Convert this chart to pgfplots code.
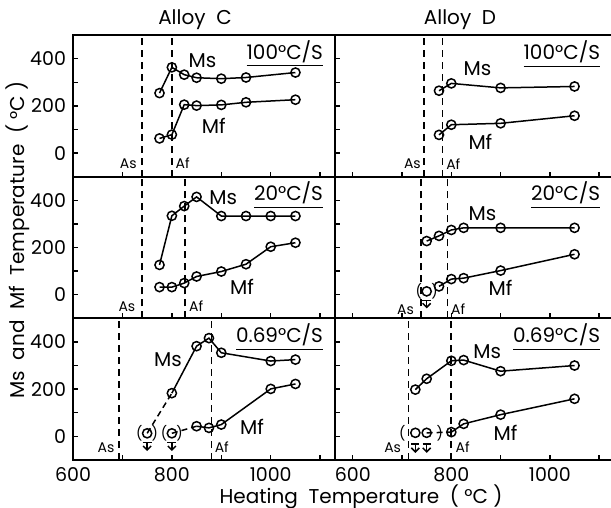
\documentclass[border=0pt]{standalone}
\usepackage{fontspec}
\setmainfont{Poppins}
\usepackage{pgfplots}
\pgfplotsset{compat=1.18}
\usetikzlibrary{arrows.meta}

\pgfplotsset{
  panel/.style={
    scale only axis, height=70.85pt,
    ymin=-100, ymax=500,
    ytick={0,200,400}, minor ytick={100,300},
    xtick={600,800,1000}, minor xtick={700,900,1100},
    tick pos=left,
    major tick length=2.5pt, minor tick length=2.5pt,
    axis line style={line width=1pt},
    every tick/.style={black, line width=0.7pt},
    tick label style={font=\fontsize{9.5}{11}\selectfont},
    /pgf/number format/assume math mode=true,
    xticklabels={},
  },
  leftp/.style={panel, xmin=600, xmax=1130, width=131pt},
  rightp/.style={panel, xmin=564, xmax=1126, width=138.5pt, yticklabels={}},
  bottomrow/.style={xticklabels={600,800,1000}},
  ser/.style={black, line width=0.75pt, mark=o, mark size=2.3pt, mark options={solid, fill=white}},
  pt/.style={black, line width=0.75pt, only marks, mark=o, mark size=2.3pt, mark options={solid, fill=white}},
  conn/.style={black, line width=0.75pt, no marks, dash pattern=on 3pt off 2pt},
  ref/.style={black, line width=0.8pt, no marks, dash pattern=on 3.5pt off 2.5pt},
  bar/.style={black, line width=0.75pt, no marks},
  arr/.style={black, line width=0.75pt, no marks, -{Straight Barb[length=2pt,width=4pt]}},
}
\newcommand{\lab}{\fontsize{10}{12}\selectfont}
\newcommand{\sml}{\fontsize{7}{8}\selectfont}
\newcommand{\paren}{\fontsize{7}{8}\selectfont(\hspace{4.6pt})}

\begin{document}
\begin{tikzpicture}
\useasboundingbox (0,0) rectangle (305.5pt,254pt);

% ---------- Alloy C, 100 C/s ----------
\begin{axis}[leftp, at={(36.5pt,165.65pt)}, anchor=south west]
\addplot[ref] coordinates {(740,-100) (740,500)};
\addplot[ref] coordinates {(800,-100) (800,500)};
\addplot[ser] coordinates {(775,254) (800,363) (825,332) (850,319) (900,315) (950,320) (1050,341)};
\addplot[ser] coordinates {(775,62) (800,78) (825,205) (850,201) (900,204) (950,215) (1050,226)};
\node[font=\lab] at (axis cs:862,391) {Ms};
\node[font=\lab] at (axis cs:885,116) {Mf};
\node[font=\sml] at (axis cs:712,-44) {As};
\node[font=\sml] at (axis cs:822,-44) {Af};
\node[font=\lab, anchor=east] at (axis cs:1120,420) {\underline{100°C/S}};
\end{axis}

% ---------- Alloy D, 100 C/s ----------
\begin{axis}[rightp, at={(167.5pt,165.65pt)}, anchor=south west]
\addplot[ref] coordinates {(745,-100) (745,500)};
\addplot[ref] coordinates {(782,-100) (782,500)};
\addplot[ser] coordinates {(775,264) (800,295) (900,276) (1050,282)};
\addplot[ser] coordinates {(775,77) (800,120) (900,126) (1050,158)};
\node[font=\lab] at (axis cs:853,356) {Ms};
\node[font=\lab] at (axis cs:859,46) {Mf};
\node[font=\sml] at (axis cs:721,-46) {As};
\node[font=\sml] at (axis cs:804,-46) {Af};
\node[font=\lab, anchor=east] at (axis cs:1116,419) {\underline{100°C/S}};
\end{axis}

% ---------- Alloy C, 20 C/s ----------
\begin{axis}[leftp, at={(36.5pt,94.85pt)}, anchor=south west]
\addplot[ref] coordinates {(740,-100) (740,500)};
\addplot[ref] coordinates {(827,-100) (827,500)};
\addplot[ser] coordinates {(775,126) (800,334) (825,375) (850,414) (900,333) (950,333) (1000,333) (1050,333)};
\addplot[ser] coordinates {(775,32) (800,32) (825,49) (850,77) (900,98) (950,129) (1000,203) (1050,220)};
\node[font=\lab] at (axis cs:904,411) {Ms};
\node[font=\lab] at (axis cs:942,35) {Mf};
\node[font=\sml] at (axis cs:709,-49) {As};
\node[font=\sml] at (axis cs:849,-49) {Af};
\node[font=\lab, anchor=east] at (axis cs:1120,421) {\underline{20°C/S}};
\end{axis}

% ---------- Alloy D, 20 C/s ----------
\begin{axis}[rightp, at={(167.5pt,94.85pt)}, anchor=south west]
\addplot[ref] coordinates {(738,-100) (738,500)};
\addplot[ref] coordinates {(792,-100) (792,500)};
\addplot[ser] coordinates {(750,227) (775,249) (800,274) (825,283) (900,283) (1050,283)};
\addplot[ser] coordinates {(775,35) (800,66) (825,70) (900,102) (1050,171)};
\addplot[pt] coordinates {(750,14)};
\node at (axis cs:750,14) {\paren};
\addplot[bar] coordinates {(741,-25) (759,-25)};
\addplot[arr] coordinates {(750,-25) (750,-58)};
\node[font=\lab] at (axis cs:863,344) {Ms};
\node[font=\lab] at (axis cs:900,28) {Mf};
\node[font=\sml] at (axis cs:707,-63) {As};
\node[font=\sml] at (axis cs:814,-63) {Af};
\node[font=\lab, anchor=east] at (axis cs:1116,421) {\underline{20°C/S}};
\end{axis}

% ---------- Alloy C, 0.69 C/s ----------
\begin{axis}[leftp, bottomrow, at={(36.5pt,24pt)}, anchor=south west]
\addplot[ref] coordinates {(693,-100) (693,500)};
\addplot[ref] coordinates {(880,-100) (880,500)};
\addplot[conn] coordinates {(750,13) (800,183)};
\addplot[conn] coordinates {(800,13) (850,43)};
\addplot[ser] coordinates {(800,183) (850,382) (875,416) (900,354) (1000,319) (1050,325)};
\addplot[ser] coordinates {(850,43) (875,36) (900,50) (1000,201) (1050,222)};
\addplot[pt] coordinates {(750,13) (800,13)};
\node at (axis cs:750,13) {\paren};
\node at (axis cs:800,13) {\paren};
\addplot[bar] coordinates {(741,-25) (759,-25)};
\addplot[arr] coordinates {(750,-25) (750,-62)};
\addplot[bar] coordinates {(791,-25) (809,-25)};
\addplot[arr] coordinates {(800,-25) (800,-62)};
\node[font=\lab] at (axis cs:792,325) {Ms};
\node[font=\lab] at (axis cs:962,41) {Mf};
\node[font=\sml] at (axis cs:667,-46) {As};
\node[font=\sml] at (axis cs:901,-46) {Af};
\node[font=\lab, anchor=east] at (axis cs:1120,420) {\underline{0.69°C/S}};
\end{axis}

% ---------- Alloy D, 0.69 C/s ----------
\begin{axis}[rightp, bottomrow, at={(167.5pt,24pt)}, anchor=south west]
\addplot[ref] coordinates {(713,-100) (713,500)};
\addplot[ref] coordinates {(799,-100) (799,500)};
\addplot[conn] coordinates {(750,15) (800,18)};
\addplot[ser] coordinates {(727,198) (750,244) (800,320) (825,323) (900,276) (1050,300)};
\addplot[ser] coordinates {(800,18) (825,53) (900,92) (1050,159)};
\addplot[pt] coordinates {(727,15) (750,15)};
\node at (axis cs:738.5,15) {\fontsize{7}{8}\selectfont(\hspace{15.5pt})};
\addplot[bar] coordinates {(719,-32) (735,-32)};
\addplot[arr] coordinates {(727,-32) (727,-70)};
\addplot[bar] coordinates {(742,-32) (758,-32)};
\addplot[arr] coordinates {(750,-32) (750,-70)};
\node[font=\lab] at (axis cs:873,357) {Ms};
\node[font=\lab] at (axis cs:910,13) {Mf};
\node[font=\sml] at (axis cs:681,-46) {As};
\node[font=\sml] at (axis cs:823,-46) {Af};
\node[font=\lab, anchor=east] at (axis cs:1116,420) {\underline{0.69°C/S}};
\end{axis}

% titles and axis labels
\node[font=\lab] at (97.5pt,244pt) {Alloy~~C};
\node[font=\lab] at (230pt,244pt) {Alloy~~D};
\node[font=\lab, rotate=90] at (9pt,134pt) {Ms~~and~~Mf~~Temperature~~(~°C~)};
\node[font=\lab] at (180.5pt,5.5pt) {Heating~~Temperature~~(~°C~)};
\end{tikzpicture}
\end{document}
